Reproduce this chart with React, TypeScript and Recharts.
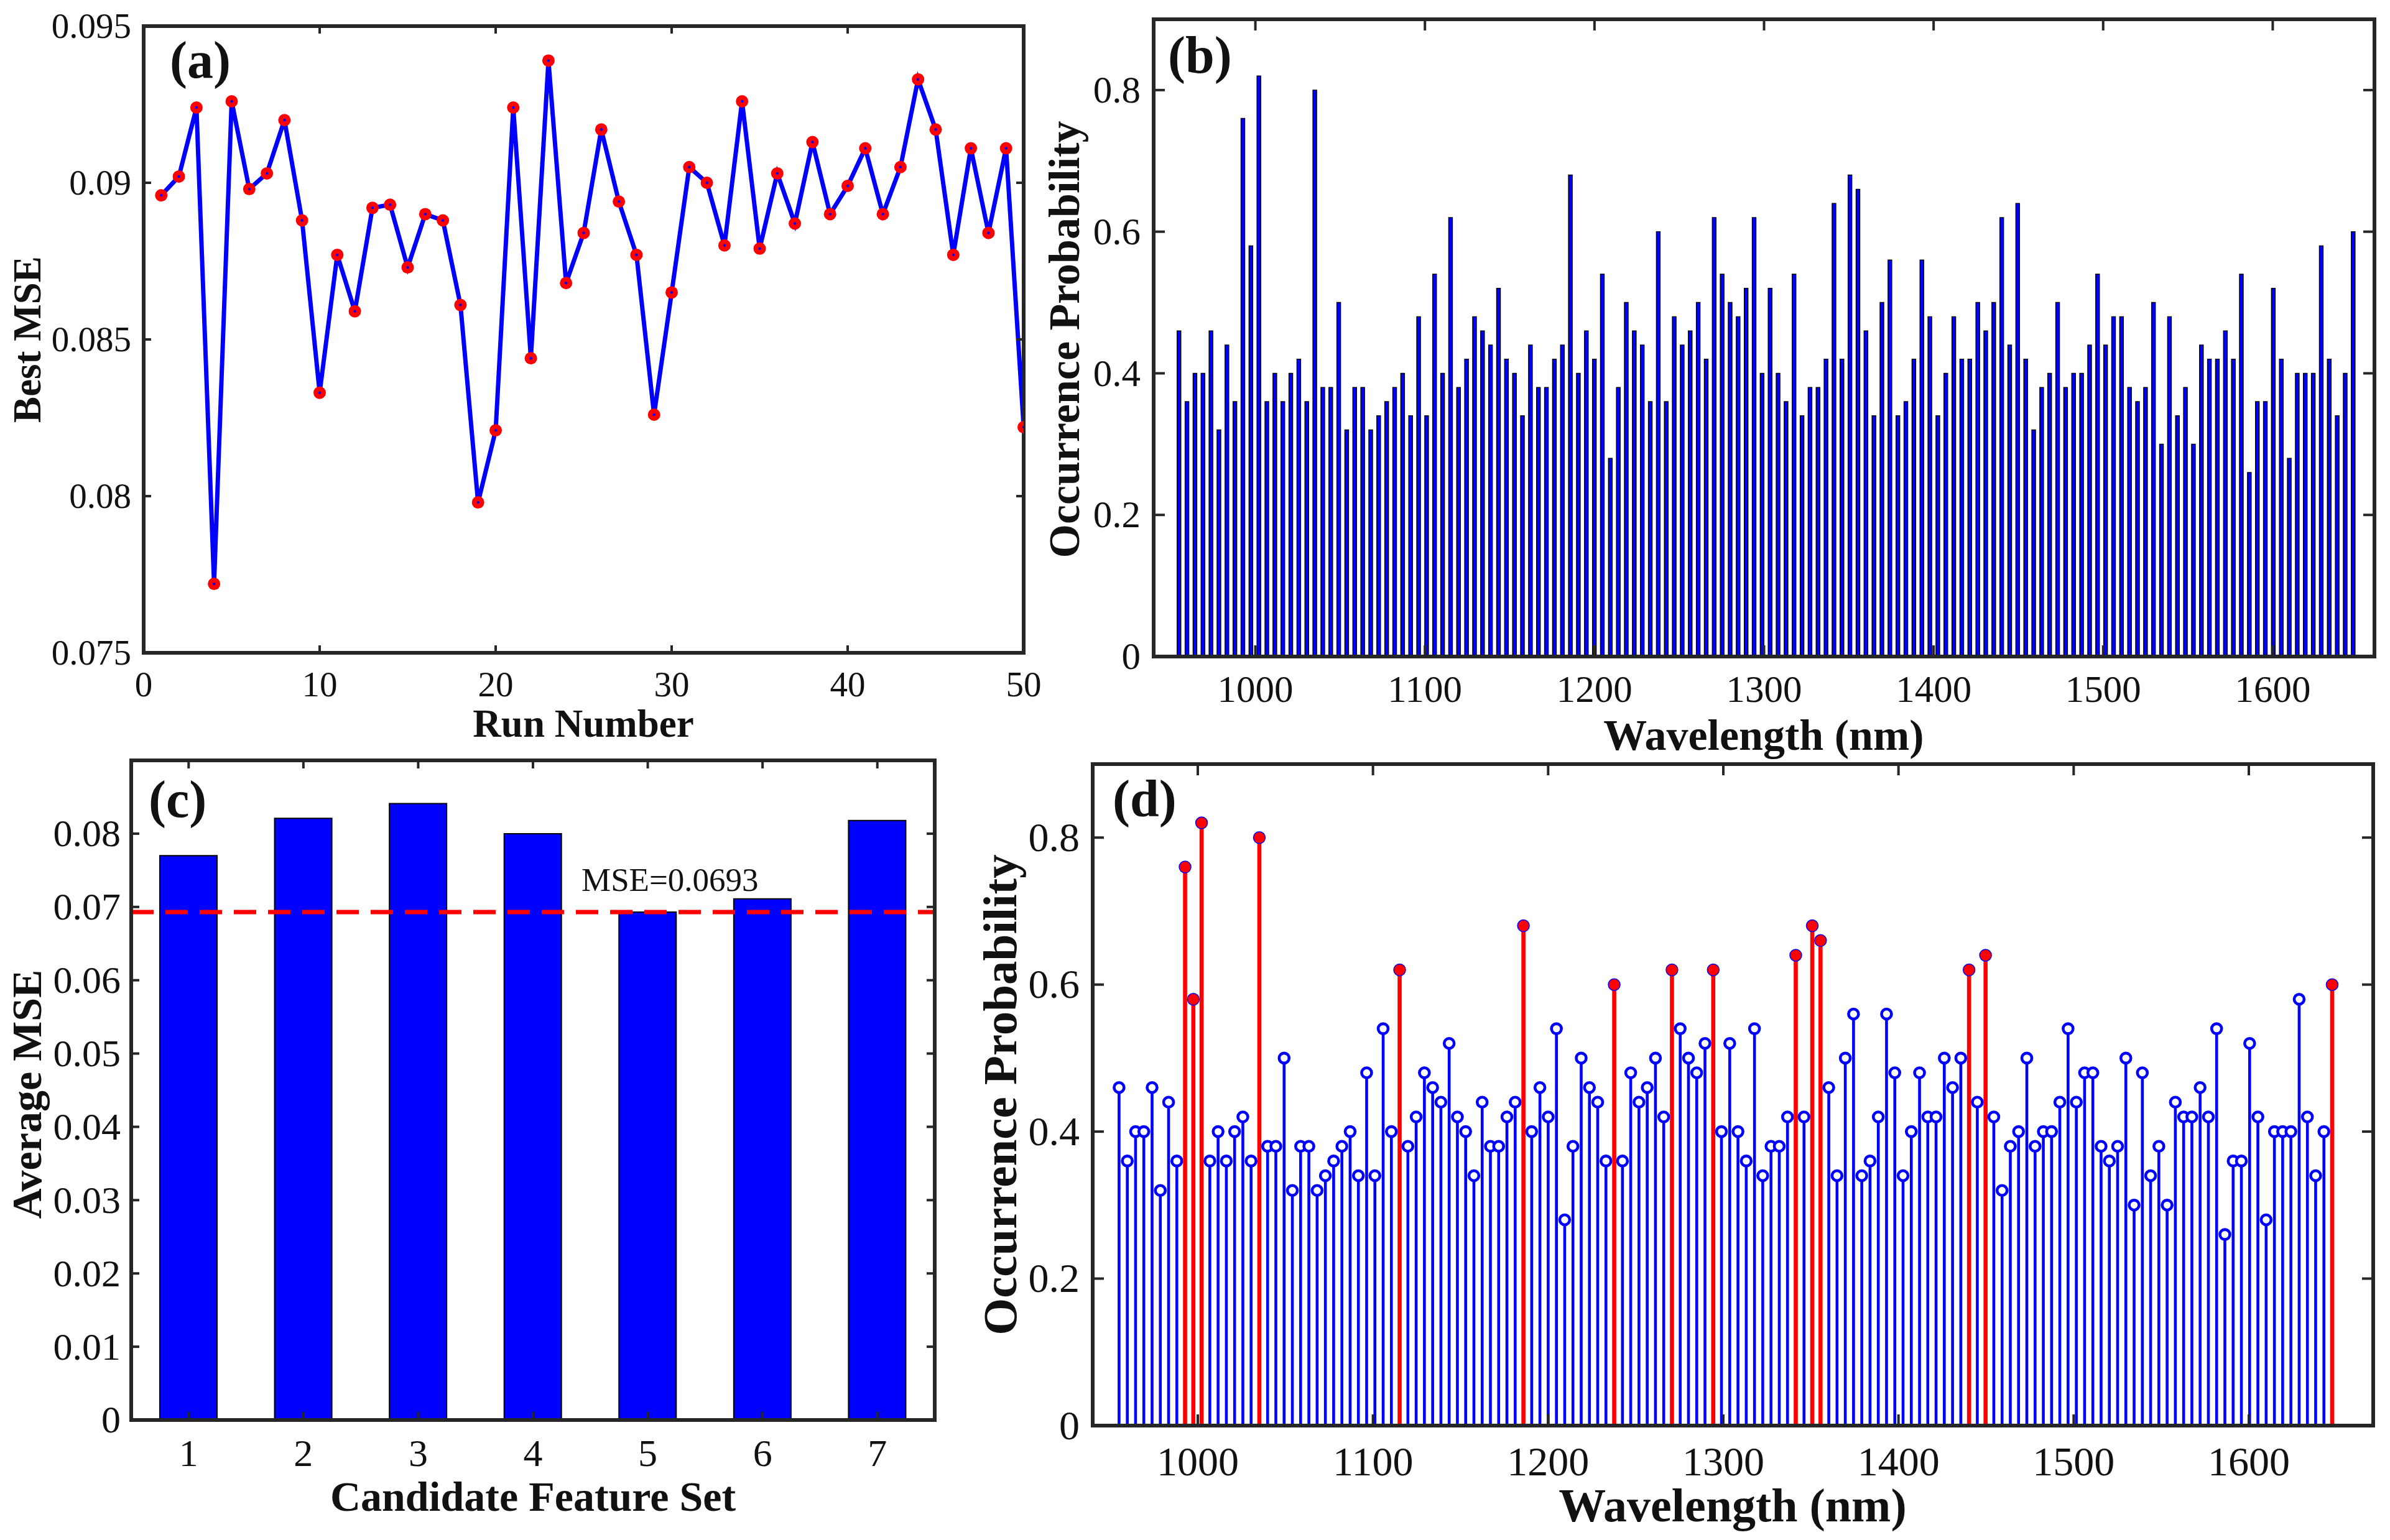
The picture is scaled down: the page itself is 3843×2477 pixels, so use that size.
import React from "react";
import { LineChart, Line, BarChart, Bar, XAxis, YAxis, ReferenceLine } from "recharts";

const FONT = '"Liberation Serif", "Times New Roman", serif';
const INK = "#262626";
const BLUE = "#0000FF";
const RED = "#FF0000";

// (a) best MSE of each of the 50 runs
const RUN_MSE = [
  0.0896, 0.0902, 0.0924, 0.0772, 0.0926, 0.0898, 0.0903, 0.092, 0.0888, 0.0833,
  0.0877, 0.0859, 0.0892, 0.0893, 0.0873, 0.089, 0.0888, 0.0861, 0.0798, 0.0821,
  0.0924, 0.0844, 0.0939, 0.0868, 0.0884, 0.0917, 0.0894, 0.0877, 0.0826, 0.0865,
  0.0905, 0.09, 0.088, 0.0926, 0.0879, 0.0903, 0.0887, 0.0913, 0.089, 0.0899,
  0.0911, 0.089, 0.0905, 0.0933, 0.0917, 0.0877, 0.0911, 0.0884, 0.0911, 0.0822,
];
const RUN_TICKS = [0, 10, 20, 30, 40, 50];
const MSE_TICKS = [0.075, 0.08, 0.085, 0.09, 0.095];

// (b)/(d) occurrence probability per wavelength variable
const WL_FIRST = 955.1;
const WL_STEP = 4.711;
const PROB = [
  0.46, 0.36, 0.4, 0.4, 0.46, 0.32, 0.44, 0.36, 0.76, 0.58,
  0.82, 0.36, 0.4, 0.36, 0.4, 0.42, 0.36, 0.8, 0.38, 0.38,
  0.5, 0.32, 0.38, 0.38, 0.32, 0.34, 0.36, 0.38, 0.4, 0.34,
  0.48, 0.34, 0.54, 0.4, 0.62, 0.38, 0.42, 0.48, 0.46, 0.44,
  0.52, 0.42, 0.4, 0.34, 0.44, 0.38, 0.38, 0.42, 0.44, 0.68,
  0.4, 0.46, 0.42, 0.54, 0.28, 0.38, 0.5, 0.46, 0.44, 0.36,
  0.6, 0.36, 0.48, 0.44, 0.46, 0.5, 0.42, 0.62, 0.54, 0.5,
  0.48, 0.52, 0.62, 0.4, 0.52, 0.4, 0.36, 0.54, 0.34, 0.38,
  0.38, 0.42, 0.64, 0.42, 0.68, 0.66, 0.46, 0.34, 0.5, 0.56,
  0.34, 0.36, 0.42, 0.56, 0.48, 0.34, 0.4, 0.48, 0.42, 0.42,
  0.5, 0.46, 0.5, 0.62, 0.44, 0.64, 0.42, 0.32, 0.38, 0.4,
  0.5, 0.38, 0.4, 0.4, 0.44, 0.54, 0.44, 0.48, 0.48, 0.38,
  0.36, 0.38, 0.5, 0.3, 0.48, 0.34, 0.38, 0.3, 0.44, 0.42,
  0.42, 0.46, 0.42, 0.54, 0.26, 0.36, 0.36, 0.52, 0.42, 0.28,
  0.4, 0.4, 0.4, 0.58, 0.42, 0.34, 0.4, 0.6,
];
// variables drawn in red in (d), 1-based
const SELECTED = [9, 10, 11, 18, 35, 50, 61, 68, 73, 83, 85, 86, 104, 106, 148];
const WL_TICKS = [1000, 1100, 1200, 1300, 1400, 1500, 1600];
const PROB_TICKS = [0, 0.2, 0.4, 0.6, 0.8];

// (c) average MSE of candidate feature sets
const SET_LABELS = ["1", "2", "3", "4", "5", "6", "7"];
const SET_MSE = [0.077, 0.0821, 0.0841, 0.08, 0.0693, 0.0711, 0.0818];
const BEST_SET_MSE = 0.0693;
const AVG_TICKS = [0, 0.01, 0.02, 0.03, 0.04, 0.05, 0.06, 0.07, 0.08];

const runData = RUN_MSE.map((mse, i) => ({ run: i + 1, mse }));
const probData = PROB.map((p, i) => ({
  wl: WL_FIRST + i * WL_STEP,
  p,
  sel: SELECTED.includes(i + 1),
}));
const setData = SET_LABELS.map((set, i) => ({ set, mse: SET_MSE[i] }));

const axisLine = { stroke: INK, strokeWidth: 6, strokeLinecap: "square" as const };

// MATLAB style: ticks point into the box, labels sit outside
function tickFor(side: "bottom" | "top" | "left" | "right", len: number, gap = 0, fontSize = 0) {
  return (props: any) => {
    const { x, y, payload } = props;
    const label = String(payload.value);
    if (side === "bottom")
      return (
        <g>
          <line x1={x} y1={y} x2={x} y2={y - len} stroke={INK} strokeWidth={4} />
          <text x={x} y={y + gap + fontSize * 0.66} textAnchor="middle" fontSize={fontSize} fontFamily={FONT} fill="#111">
            {label}
          </text>
        </g>
      );
    if (side === "left")
      return (
        <g>
          <line x1={x} y1={y} x2={x + len} y2={y} stroke={INK} strokeWidth={4} />
          <text x={x - gap} y={y + fontSize * 0.33} textAnchor="end" fontSize={fontSize} fontFamily={FONT} fill="#111">
            {label}
          </text>
        </g>
      );
    if (side === "top") return <line x1={x} y1={y} x2={x} y2={y + len} stroke={INK} strokeWidth={4} />;
    return <line x1={x} y1={y} x2={x - len} y2={y} stroke={INK} strokeWidth={4} />;
  };
}

const frame = { tickSize: 0, tickMargin: 0, tickLine: false, axisLine, interval: 0 as const };

function RunDot(props: any) {
  const { cx, cy, index } = props;
  return (
    <g key={`d${index}`}>
      <circle cx={cx} cy={cy} r={10} fill={RED} />
      <circle cx={cx} cy={cy} r={2.2} fill={BLUE} />
    </g>
  );
}

function Stem(props: any) {
  const { x, y, width, height, payload } = props;
  const cx = x + width / 2;
  const sel = payload.sel;
  const w = sel ? 6.6 : 4.6;
  return (
    <g>
      <rect x={cx - w / 2} y={y} width={w} height={height} fill={sel ? RED : BLUE} />
      {sel ? (
        <circle cx={cx} cy={y} r={9.5} fill={RED} stroke={BLUE} strokeWidth={1.5} />
      ) : (
        <circle cx={cx} cy={y} r={8} fill="#fff" stroke={BLUE} strokeWidth={4.6} />
      )}
    </g>
  );
}

export default function App() {
  return (
    <div style={{ position: "absolute", left: 0, top: 0, width: 3843, height: 2477, background: "#fff", overflow: "hidden" }}>
      {/* (a) */}
      <div style={{ position: "absolute", left: 0, top: 0 }}>
        <LineChart width={1700} height={1240} data={runData} margin={{ top: 41, right: 53, bottom: 189, left: 230 }}>
          <XAxis {...frame} dataKey="run" type="number" domain={[0, 50]} ticks={RUN_TICKS} height={1}
            tick={tickFor("bottom", 12, 32, 57)} allowDataOverflow />
          <XAxis {...frame} xAxisId="top" orientation="top" dataKey="run" type="number" domain={[0, 50]} ticks={RUN_TICKS}
            height={1} tick={tickFor("top", 12)} allowDataOverflow />
          <YAxis {...frame} type="number" domain={[0.075, 0.095]} ticks={MSE_TICKS} width={1}
            tick={tickFor("left", 12, 20, 57)} allowDataOverflow />
          <YAxis {...frame} yAxisId="right" orientation="right" type="number" domain={[0.075, 0.095]} ticks={MSE_TICKS}
            width={1} tick={tickFor("right", 12)} allowDataOverflow />
          <Line dataKey="mse" stroke={BLUE} strokeWidth={7} dot={RunDot} isAnimationActive={false} />
        </LineChart>
      </div>

      {/* (b) */}
      <div style={{ position: "absolute", left: 1650, top: 0 }}>
        <BarChart width={2193} height={1240} data={probData} margin={{ top: 30, right: 24, bottom: 183, left: 204 }}>
          <XAxis {...frame} dataKey="wl" type="number" domain={[940, 1660]} ticks={WL_TICKS} height={1}
            tick={tickFor("bottom", 18, 33, 61)} allowDataOverflow />
          <XAxis {...frame} xAxisId="top" orientation="top" dataKey="wl" type="number" domain={[940, 1660]} ticks={WL_TICKS}
            height={1} tick={tickFor("top", 18)} allowDataOverflow />
          <YAxis {...frame} type="number" domain={[0, 0.9]} ticks={PROB_TICKS} width={1}
            tick={tickFor("left", 18, 21, 61)} allowDataOverflow />
          <YAxis {...frame} yAxisId="right" orientation="right" type="number" domain={[0, 0.9]} ticks={PROB_TICKS}
            width={1} tick={tickFor("right", 18)} allowDataOverflow />
          <Bar dataKey="p" barSize={6} fill={BLUE} stroke="#000" strokeWidth={1.4} isAnimationActive={false} />
        </BarChart>
      </div>

      {/* (c) */}
      <div style={{ position: "absolute", left: 0, top: 1200 }}>
        <BarChart width={1650} height={1277} data={setData} margin={{ top: 22, right: 146, bottom: 192, left: 210 }}>
          <XAxis {...frame} dataKey="set" height={1} tick={tickFor("bottom", 13, 33, 62)} />
          <XAxis {...frame} xAxisId="top" orientation="top" dataKey="set" height={1} tick={tickFor("top", 13)} />
          <YAxis {...frame} type="number" domain={[0, 0.09]} ticks={AVG_TICKS} width={1}
            tick={tickFor("left", 13, 17, 62)} allowDataOverflow />
          <YAxis {...frame} yAxisId="right" orientation="right" type="number" domain={[0, 0.09]} ticks={AVG_TICKS}
            width={1} tick={tickFor("right", 13)} allowDataOverflow />
          <Bar dataKey="mse" barSize={92} fill={BLUE} stroke="#000" strokeWidth={2} isAnimationActive={false} />
          <ReferenceLine y={BEST_SET_MSE} stroke={RED} strokeWidth={7} strokeDasharray="36 19" />
        </BarChart>
      </div>

      {/* (d) */}
      <div style={{ position: "absolute", left: 1560, top: 1200 }}>
        <BarChart width={2283} height={1277} data={probData} margin={{ top: 28, right: 26, bottom: 183, left: 196 }}>
          <XAxis {...frame} dataKey="wl" type="number" domain={[940, 1671]} ticks={WL_TICKS} height={1}
            tick={tickFor("bottom", 18, 36, 66)} allowDataOverflow />
          <XAxis {...frame} xAxisId="top" orientation="top" dataKey="wl" type="number" domain={[940, 1671]} ticks={WL_TICKS}
            height={1} tick={tickFor("top", 18)} allowDataOverflow />
          <YAxis {...frame} type="number" domain={[0, 0.9]} ticks={PROB_TICKS} width={1}
            tick={tickFor("left", 18, 21, 66)} allowDataOverflow />
          <YAxis {...frame} yAxisId="right" orientation="right" type="number" domain={[0, 0.9]} ticks={PROB_TICKS}
            width={1} tick={tickFor("right", 18)} allowDataOverflow />
          <Bar dataKey="p" barSize={7} shape={Stem} isAnimationActive={false} />
        </BarChart>
      </div>

      {/* titles and panel letters */}
      <svg width={3843} height={2477} style={{ position: "absolute", left: 0, top: 0, pointerEvents: "none" }}>
        <g fill="#111" fontWeight="bold" fontFamily={FONT}>
          <text x={273} y={125} fontSize={84}>(a)</text>
          <text x={1878} y={117} fontSize={84}>(b)</text>
          <text x={239} y={1314} fontSize={84}>(c)</text>
          <text x={1789} y={1313} fontSize={84}>(d)</text>

          <text x={938} y={1185} fontSize={63} textAnchor="middle">Run Number</text>
          <text x={65} y={546} fontSize={63} textAnchor="middle" transform="rotate(-90 65 546)">Best MSE</text>

          <text x={2836} y={1206} fontSize={70} textAnchor="middle">Wavelength (nm)</text>
          <text x={1735} y={546} fontSize={70} textAnchor="middle" transform="rotate(-90 1735 546)">Occurrence Probability</text>

          <text x={857} y={2430} fontSize={68} textAnchor="middle">Candidate Feature Set</text>
          <text x={66} y={1760} fontSize={68} textAnchor="middle" transform="rotate(-90 66 1760)">Average MSE</text>

          <text x={2786} y={2447} fontSize={76} textAnchor="middle">Wavelength (nm)</text>
          <text x={1634} y={1761} fontSize={77} textAnchor="middle" transform="rotate(-90 1634 1761)">Occurrence Probability</text>
        </g>
        <text x={935} y={1433} fontSize={53} fontFamily={FONT} fill="#111">MSE=0.0693</text>
      </svg>
    </div>
  );
}
